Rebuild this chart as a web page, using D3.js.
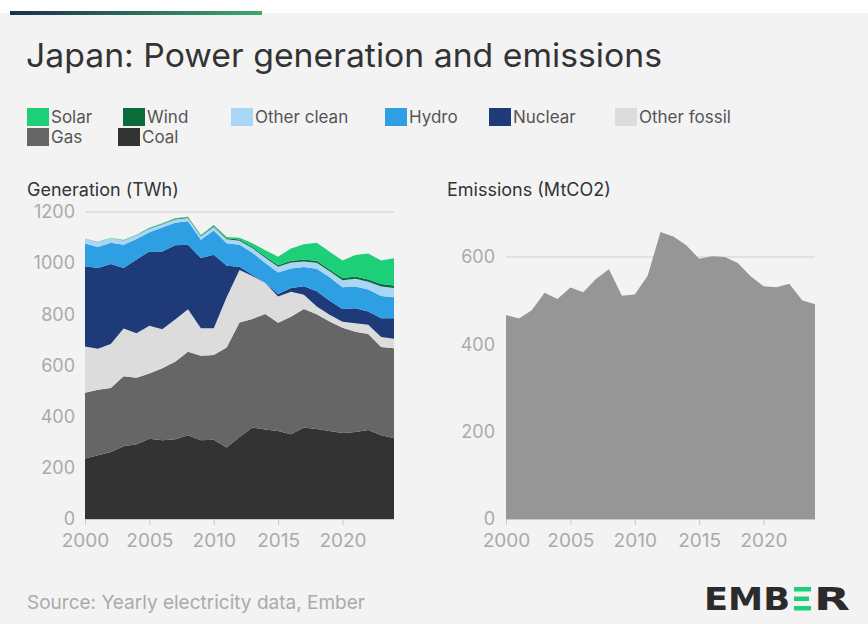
<!DOCTYPE html>
<html><head><meta charset="utf-8">
<script src="https://cdn.jsdelivr.net/npm/d3@7"></script>
<style>
html,body{margin:0;padding:0;background:#fff;}
svg{display:block;font-family:Inter,"Noto Sans",sans-serif;}
</style></head>
<body>
<svg id="chart" width="868" height="624"></svg>
<script>
// ---------- data ----------
const years = d3.range(2000, 2025);
const coal = [236,249,262,284,292,314,308,312,327,308,310,279,321,358,350,344,331,358,352,344,336,340,348,327,317];
const gas = [257,256,250,274,260,255,281,303,327,330,331,391,447,424,451,423,460,463,448,428,412,392,375,345,350];
const otherFossil = [181,160,172,187,174,186,153,165,166,108,105,197,205,168,121,103,97,56,31,26,23,33,36,39,38];
const nuclear = [314,316,313,236,288,291,304,290,252,274,287,123,13,5,0,9,15,33,59,55,50,59,52,74,80];
const hydro = [89,82,83,91,80,75,93,88,92,72,95,88,86,86,79,85,76,75,88,92,85,85,86,87,82];
const otherClean = [20,19,18,17,15,14,13,13,13,13,14,15,16,18,20,22,24,22,24,23,27,30,30,37,36];
const wind = [0.1,0.3,0.4,0.9,1.3,1.8,2.2,2.6,2.6,2.9,4.0,4.6,4.8,5.0,5.2,5.5,6.2,6.5,7.5,7.7,9.0,9.0,9.5,10,10];
const solar = [0.3,0.4,0.5,0.6,0.9,1.2,1.5,1.7,2.0,2.5,3.5,5,7,14,24,34,48,60,70,69,68,84,101,91,106];
const emissions = [467,459,478,518,504,530,519,550,572,511,514,557,657,647,627,596,602,600,586,556,533,531,539,501,492];

const seriesNames = ["Coal","Gas","Other fossil","Nuclear","Hydro","Other clean","Wind","Solar"];
const seriesValues = [coal,gas,otherFossil,nuclear,hydro,otherClean,wind,solar];
const seriesColors = ["#333333","#666666","#dcdcdc","#1e3a78","#2f9fe3","#a9d6f5","#0b6b3a","#1ccf78"];
const legendOrder = ["Solar","Wind","Other clean","Hydro","Nuclear","Other fossil","Gas","Coal"];
const genTicks = [0,200,400,600,800,1000,1200];
const emiTicks = [0,200,400,600];
const xTicks = [2000,2005,2010,2015,2020];

// ---------- layout ----------
const svg = d3.select("#chart");
svg.append("rect").attr("width",868).attr("height",624).attr("fill","#f3f3f3");
svg.append("rect").attr("width",868).attr("height",13).attr("fill","#ffffff");
const grad = svg.append("defs").append("linearGradient").attr("id","topbar");
grad.append("stop").attr("offset","0%").attr("stop-color","#1d2e4c");
grad.append("stop").attr("offset","100%").attr("stop-color","#3aa96d");
svg.append("rect").attr("x",10).attr("y",11).attr("width",252).attr("height",4).attr("fill","url(#topbar)");

svg.append("text").attr("x",26).attr("y",67).attr("font-size",33).attr("fill","#333")
  .attr("textLength",636).attr("lengthAdjust","spacingAndGlyphs")
  .text("Japan: Power generation and emissions");

// legend
const colorOf = {};
seriesNames.forEach((n,i)=>colorOf[n]=seriesColors[i]);
const legendPos = [
  {x:27,y:108},{x:123,y:108},{x:231,y:108},{x:385,y:108},{x:489,y:108},{x:615,y:108},
  {x:27,y:128},{x:118,y:128}
];
legendOrder.forEach((n,i)=>{
  const p = legendPos[i];
  svg.append("rect").attr("x",p.x).attr("y",p.y).attr("width",22).attr("height",18).attr("fill",colorOf[n]);
  svg.append("text").attr("x",p.x+24).attr("y",p.y+15).attr("font-size",17).attr("fill","#555").text(n);
});

svg.append("text").attr("x",27).attr("y",196).attr("font-size",18).attr("fill","#333").text("Generation (TWh)");
svg.append("text").attr("x",447).attr("y",196).attr("font-size",18).attr("fill","#333").text("Emissions (MtCO2)");

// ---------- generation chart ----------
const x1 = d3.scaleLinear().domain([2000,2024]).range([85,394]);
const y1 = d3.scaleLinear().domain([0,1200]).range([519,212]);
const table = years.map((yr,i)=>{
  const o = {year:yr};
  seriesNames.forEach((n,j)=>o[n]=seriesValues[j][i]);
  return o;
});
const stack = d3.stack().keys(seriesNames)(table);

const g1 = svg.append("g");
g1.selectAll("line.grid").data(genTicks).enter().append("line")
  .attr("x1",85).attr("x2",394).attr("y1",d=>y1(d)).attr("y2",d=>y1(d))
  .attr("stroke","#cfcfcf").attr("stroke-width",1.2);
const area1 = d3.area().x(d=>x1(d.data.year)).y0(d=>y1(d[0])).y1(d=>y1(d[1]));
g1.selectAll("path.layer").data(stack).enter().append("path")
  .attr("d",area1).attr("fill",(d,i)=>seriesColors[i]);

function styleAxis(size){
  return function(g){
    g.select(".domain").remove();
    g.selectAll("text").attr("fill","#aaaaaa").attr("font-size",size).attr("font-family","Inter, 'Noto Sans', sans-serif");
    g.selectAll("line").attr("stroke","#c8c8c8");
  };
}
svg.append("g").attr("transform","translate(0,519)")
  .call(d3.axisBottom(x1).tickValues(xTicks).tickFormat(d3.format("d")).tickSize(6).tickPadding(9))
  .call(styleAxis(19));
svg.append("g").attr("transform","translate(75,0)")
  .call(d3.axisLeft(y1).tickValues(genTicks).tickFormat(d3.format("d")).tickSize(0).tickPadding(0))
  .call(styleAxis(18));
svg.append("line").attr("x1",85).attr("x2",394).attr("y1",519.5).attr("y2",519.5).attr("stroke","#c8c8c8");

// ---------- emissions chart ----------
const x2 = d3.scaleLinear().domain([2000,2024]).range([506,815]);
const y2 = d3.scaleLinear().domain([0,600]).range([519,257]);
const g2 = svg.append("g");
g2.selectAll("line.grid").data(emiTicks).enter().append("line")
  .attr("x1",506).attr("x2",815).attr("y1",d=>y2(d)).attr("y2",d=>y2(d))
  .attr("stroke","#cfcfcf").attr("stroke-width",1.2);
const area2 = d3.area().x((d,i)=>x2(years[i])).y0(y2(0)).y1(d=>y2(d));
g2.append("path").datum(emissions).attr("d",area2).attr("fill","#969696");
svg.append("g").attr("transform","translate(0,519)")
  .call(d3.axisBottom(x2).tickValues(xTicks).tickFormat(d3.format("d")).tickSize(6).tickPadding(9))
  .call(styleAxis(19));
svg.append("g").attr("transform","translate(495,0)")
  .call(d3.axisLeft(y2).tickValues(emiTicks).tickFormat(d3.format("d")).tickSize(0).tickPadding(0))
  .call(styleAxis(18));
svg.append("line").attr("x1",506).attr("x2",815).attr("y1",519.5).attr("y2",519.5).attr("stroke","#c8c8c8");

// ---------- footer ----------
svg.append("text").attr("x",27).attr("y",609).attr("font-size",19).attr("fill","#aaaaaa")
  .text("Source: Yearly electricity data, Ember");
const logo = svg.append("g");
logo.append("text").attr("x",704).attr("y",610).attr("font-size",32).attr("font-weight","bold")
  .attr("font-family","'DejaVu Sans', sans-serif").attr("fill","#2b2b2b")
  .attr("textLength",86).attr("lengthAdjust","spacingAndGlyphs").text("EMB");
[0,1,2].forEach(k=>{
  logo.append("rect").attr("x",794).attr("y",587+k*9.5).attr("width",k===1?15:17).attr("height",4.5).attr("fill","#1ccf78");
});
logo.append("text").attr("x",814).attr("y",610).attr("font-size",32).attr("font-weight","bold")
  .attr("font-family","'DejaVu Sans', sans-serif").attr("fill","#2b2b2b")
  .attr("textLength",36).attr("lengthAdjust","spacingAndGlyphs").text("R");
</script>
</body></html>
